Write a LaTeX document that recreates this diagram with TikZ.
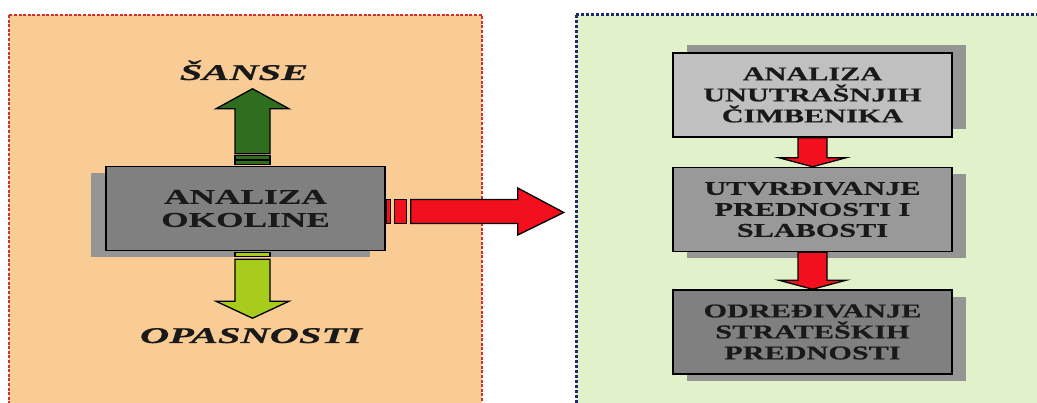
\documentclass[tikz,border=0pt]{standalone}
\usepackage{fontspec}
\setmainfont{Liberation Serif}
\newfontfamily\boxfont{Liberation Serif}[FakeStretch=1.55, BoldFeatures={FakeBold=0.6}]
\newfontfamily\envfont{Liberation Serif}[FakeStretch=1.68, BoldFeatures={FakeBold=0.6}]
\newfontfamily\lblfont{Liberation Serif}[FakeStretch=1.8, BoldItalicFeatures={FakeBold=0.6}]
\usetikzlibrary{positioning,shadows,calc}

\definecolor{peach}{HTML}{F8CC94}
\definecolor{palegreen}{HTML}{E1F2CA}
\definecolor{dotred}{HTML}{D03030}
\definecolor{dotnavy}{HTML}{1F2A6E}
\definecolor{sansegreen}{HTML}{2E6E1E}
\definecolor{dangergreen}{HTML}{A8CC1C}
\definecolor{arrowred}{HTML}{F2101E}
\definecolor{boxlight}{HTML}{C0C0C0}
\definecolor{boxmid}{HTML}{999999}
\definecolor{boxdark}{HTML}{808080}
\definecolor{shadowgrey}{HTML}{959595}

\tikzset{
  panelleft/.style={fill=peach, draw=dotred, line width=2.6pt, dash pattern=on 3pt off 1.6pt},
  panelright/.style={fill=palegreen, draw=dotnavy, line width=3pt, dash pattern=on 3.2pt off 1.8pt},
  greybox/.style={draw=black, line width=1.5pt, align=center, text=black!90,
    minimum width=279pt, minimum height=84pt, inner sep=0pt},
  stepboxfont/.style={font=\boxfont\bfseries\fontsize{19.5}{21}\selectfont},
  blockarrow/.style={draw=black, line width=1.3pt, line join=miter},
  lbl/.style={font=\lblfont\bfseries\itshape\fontsize{22.5}{24}\selectfont, text=black!90}
}

\begin{document}
\begin{tikzpicture}[x=1pt, y=-1pt]
  \useasboundingbox (0,0) rectangle (1037,403);
  \clip (0,0) rectangle (1037,403);
  \fill[white] (0,0) rectangle (1037,403);

  % Panels
  \draw[panelleft] (9,15) rectangle (482,420);
  \draw[panelright] (576,15) rectangle (1050,420);

  % Environment
  \node[greybox, fill=boxdark, general shadow={fill=shadowgrey, shadow xshift=-15pt, shadow yshift=-7pt},
    font=\envfont\bfseries\fontsize{21}{23}\selectfont] (env) at (245.5,208.5) {ANALIZA\\OKOLINE};

  % Internal analysis steps
  \node[greybox, stepboxfont, fill=boxlight, general shadow={fill=shadowgrey, shadow xshift=14pt, shadow yshift=8pt}]
    (intern) at (812.5,95) {ANALIZA\\UNUTRAŠNJIH\\ČIMBENIKA};
  \node[greybox, stepboxfont, fill=boxmid, below=29pt of intern, general shadow={fill=shadowgrey, shadow xshift=14pt, shadow yshift=-7pt}]
    (strength) {UTVRĐIVANJE\\PREDNOSTI I\\SLABOSTI};
  \node[greybox, stepboxfont, fill=boxdark, below=37pt of strength, general shadow={fill=shadowgrey, shadow xshift=14pt, shadow yshift=-7pt}]
    (strategy) {ODREĐIVANJE\\STRATEŠKIH\\PREDNOSTI};

  % Opportunities
  \coordinate (upbase) at ([xshift=7pt]env.north);
  \begin{scope}[shift={(upbase)}]
    \draw[blockarrow, fill=sansegreen] (-17.5,-12) -- (-17.5,-57) -- (-36.5,-57) -- (0,-77)
      -- (36.5,-57) -- (17.5,-57) -- (17.5,-12) -- cycle;
    \draw[blockarrow, fill=sansegreen] (-17.5,-10.5) rectangle (17.5,-6.5);
    \draw[blockarrow, fill=sansegreen] (-17.5,-5) rectangle (17.5,-1);
  \end{scope}

  % Threats
  \coordinate (downbase) at ([xshift=7pt]env.south);
  \begin{scope}[shift={(downbase)}]
    \draw[blockarrow, fill=dangergreen] (-17.5,1) rectangle (17.5,5.5);
    \draw[blockarrow, fill=dangergreen] (-17.5,8) -- (-17.5,50) -- (-36.5,50) -- (0,67)
      -- (36.5,50) -- (17.5,50) -- (17.5,8) -- cycle;
  \end{scope}

  % To internal analysis
  \coordinate (rightbase) at ([yshift=-3pt]env.east);
  \begin{scope}[shift={(rightbase)}]
    \draw[blockarrow, fill=arrowred] (1,-12) rectangle (4.5,12);
    \draw[blockarrow, fill=arrowred] (8.5,-12) rectangle (21,12);
    \draw[blockarrow, fill=arrowred] (25,-12) -- (132,-12) -- (132,-23.5) -- (178,1)
      -- (132,23.5) -- (132,12) -- (25,12) -- cycle;
  \end{scope}

  % Step arrows
  \foreach \a/\b in {intern/strength, strength/strategy}
    \draw[blockarrow, fill=arrowred] let \p1=(\a.south), \p2=(\b.north) in
      (\x1-14.5pt,\y1) -- (\x1-14.5pt,\y2+9pt) -- (\x1-33.5pt,\y2+9pt) -- (\x1,\y2)
      -- (\x1+33.5pt,\y2+9pt) -- (\x1+14.5pt,\y2+9pt) -- (\x1+14.5pt,\y1) -- cycle;

  % Labels
  \node[lbl, anchor=base] (sanse) at (244,80) {ŠANSE};
  \node[lbl, anchor=base] (threats) at (251,343) {OPASNOSTI};
\end{tikzpicture}
\end{document}
